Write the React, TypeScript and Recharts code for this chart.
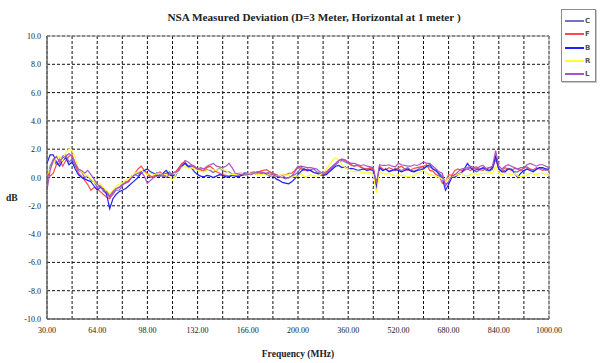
import React from 'react';
import { LineChart, Line, XAxis, YAxis, CartesianGrid, ReferenceArea, Legend } from 'recharts';

// Frequencies (MHz) of the sampled points
const FREQS = [
  30, 32.125, 34.25, 36.375, 38.5, 40.625, 42.75, 44.875, 47, 49.125,
  51.25, 53.375, 55.5, 57.625, 59.75, 61.875, 64, 66.125, 68.25, 70.375,
  72.5, 74.625, 76.75, 78.875, 81, 83.125, 85.25, 87.375, 89.5, 91.625,
  93.75, 95.875, 98, 100.125, 102.25, 104.375, 106.5, 108.625, 110.75, 112.875,
  115, 117.125, 119.25, 121.375, 123.5, 125.625, 127.75, 129.875, 132, 134.125,
  136.25, 138.375, 140.5, 142.625, 144.75, 146.875, 149, 151.125, 153.25, 155.375,
  157.5, 159.625, 161.75, 163.875, 166, 168.125, 170.25, 172.375, 174.5, 176.625,
  178.75, 180.875, 183, 185.125, 187.25, 189.375, 191.5, 193.625, 195.75, 197.875,
  200, 210, 220, 230, 240, 250, 260, 270, 280, 290,
  300, 310, 320, 330, 340, 350, 360, 370, 380, 390,
  400, 410, 420, 430, 440, 450, 460, 470, 480, 490,
  500, 510, 520, 530, 540, 550, 560, 570, 580, 590,
  600, 610, 620, 630, 640, 650, 660, 670, 680, 690,
  700, 710, 720, 730, 740, 750, 760, 770, 780, 790,
  800, 810, 820, 830, 840, 850, 860, 870, 880, 890,
  900, 910, 920, 930, 940, 950, 960, 970, 980, 990,
  1000,
];

const C_VALS = [
  -0.3, 0.8, 1.3, 0.9, 1.0, 1.5, 1.6, 1.1, 1.3, 0.8,
  0.5, 0.4, 0.0, 0.1, -0.2, -0.3, -0.7, -0.6, -1.0, -1.1,
  -1.4, -1.2, -0.9, -0.9, -0.6, -0.3, -0.3, 0.1, 0.2, 0.1,
  0.4, 0.5, 0.2, 0.0, 0.1, 0.35, 0.2, 0.05, 0.2, 0.4,
  0.2, 0.1, 0.6, 0.9, 1.0, 0.7, 0.8, 0.75, 0.5, 0.6,
  0.4, 0.55, 0.5, 0.35, 0.5, 0.65, 0.5, 0.4, 0.4, 0.25,
  0.2, 0.15, 0.25, 0.35, 0.3, 0.2, 0.3, 0.4, 0.35, 0.25,
  0.3, 0.4, 0.25, 0.2, 0.1, 0.15, 0.0, -0.05, 0.1, 0.2,
  0.4, 0.7, 0.6, 0.45, 0.55, 0.6, 0.4, 0.3, 0.2, 0.25,
  0.5, 0.7, 0.9, 1.1, 1.2, 1.1, 1.0, 0.85, 0.8, 0.9,
  0.7, 0.6, 0.6, 0.7, 0.55, -0.6, 0.7, 0.5, 0.6, 0.45,
  0.5, 0.65, 0.6, 0.5, 0.6, 0.7, 0.5, 0.45, 0.55, 0.7,
  0.65, 0.8, 0.75, 0.6, 0.45, 0.3, 0.1, -0.5, -0.3, 0.0,
  0.1, 0.25, 0.35, 0.5, 0.6, 0.7, 0.5, 0.4, 0.55, 0.65,
  0.5, 0.45, 0.6, 1.3, 0.6, 0.45, 0.5, 0.65, 0.55, 0.4,
  0.4, 0.55, 0.45, 0.6, 0.6, 0.5, 0.55, 0.7, 0.6, 0.5,
  0.55,
];
const F_VALS = [
  0.4, 0.1, 0.3, 0.9, 1.3, 0.8, 1.2, 1.5, 1.6, 1.0,
  0.3, 0.1, -0.2, -0.5, -0.9, -0.7, -0.8, -1.0, -1.2, -1.4,
  -1.5, -1.1, -0.8, -0.7, -0.5, -0.4, -0.2, 0.0, 0.3, 0.6,
  0.8, 0.5, 0.3, 0.1, 0.0, 0.2, 0.4, 0.2, 0.3, 0.2,
  0.3, 0.4, 0.7, 1.0, 1.1, 0.8, 0.9, 0.7, 0.6, 0.5,
  0.5, 0.7, 0.8, 0.6, 0.4, 0.3, 0.2, 0.15, 0.1, 0.15,
  0.2, 0.3, 0.3, 0.2, 0.2, 0.35, 0.4, 0.3, 0.45, 0.5,
  0.55, 0.4, 0.3, 0.2, 0.1, 0.2, 0.15, 0.3, 0.3, 0.5,
  0.8, 0.6, 0.5, 0.6, 0.5, 0.35, 0.3, 0.25, 0.2, 0.3,
  0.55, 0.8, 1.0, 1.2, 1.3, 1.2, 1.1, 0.9, 0.8, 0.85,
  0.75, 0.65, 0.6, 0.65, 0.6, -0.5, 0.8, 0.6, 0.55, 0.7,
  0.6, 0.5, 0.7, 0.8, 0.6, 0.5, 0.55, 0.65, 0.7, 0.75,
  0.8, 0.9, 0.5, 0.45, 0.2, 0.1, -0.4, -0.3, 0.2, 0.15,
  0.5, 0.6, 0.5, 0.55, 0.6, 0.5, 0.7, 0.75, 0.55, 0.5,
  0.65, 0.7, 0.7, 1.4, 0.6, 0.5, 0.7, 0.6, 0.5, 0.65,
  0.6, 0.5, 0.7, 0.75, 0.6, 0.55, 0.7, 0.6, 0.5, 0.6,
  0.5,
];
const B_VALS = [
  1.0, 1.6, 1.6, 1.1, 0.8, 1.2, 1.4, 0.9, 1.1, 0.6,
  0.2, 0.0, -0.1, -0.2, -0.3, -0.6, -0.9, -0.7, -0.8, -1.2,
  -2.2, -1.5, -1.2, -1.0, -0.9, -0.8, -0.6, -0.4, -0.2, 0.0,
  0.3, 0.5, 0.6, 0.4, 0.3, 0.15, 0.1, 0.3, 0.5, 0.2,
  0.1, 0.2, 0.5, 0.8, 1.0, 0.8, 0.7, 0.4, 0.2, 0.1,
  0.05, 0.15, 0.1, 0.0, 0.1, 0.2, 0.15, 0.05, 0.05, 0.15,
  0.1, 0.05, 0.15, 0.2, 0.2, 0.3, 0.3, 0.2, 0.25, 0.3,
  0.2, 0.1, 0.15, -0.1, -0.2, -0.35, -0.4, -0.45, -0.3, -0.1,
  0.2, 0.45, 0.6, 0.5, 0.5, 0.35, 0.3, 0.2, 0.15, 0.2,
  0.4, 0.6, 0.8, 0.85, 0.7, 0.75, 0.6, 0.65, 0.6, 0.5,
  0.55, 0.6, 0.5, 0.55, 0.5, -0.8, 0.7, 0.5, 0.6, 0.4,
  0.5, 0.55, 0.5, 0.4, 0.5, 0.6, 0.45, 0.4, 0.5, 0.55,
  0.6, 0.8, 0.9, 0.6, 0.5, 0.2, -0.05, -0.9, -0.5, 0.0,
  0.0, 0.2, 0.3, 0.6, 1.0, 0.7, 0.5, 0.55, 0.6, 0.7,
  0.6, 0.5, 0.7, 1.5, 0.6, 0.4, 0.4, 0.6, 0.6, 0.3,
  0.0, 0.3, 0.5, 0.6, 0.5, 0.4, 0.6, 0.7, 0.7, 0.6,
  0.6,
];
const R_VALS = [
  0.2, 0.6, 1.0, 1.4, 1.5, 1.2, 1.8, 2.0, 1.9, 1.4,
  0.6, 0.4, 0.2, 0.1, -0.1, -0.3, -0.5, -0.4, -0.7, -0.9,
  -1.2, -0.9, -0.6, -0.5, -0.4, -0.2, -0.1, 0.1, 0.3, 0.4,
  0.5, 0.35, 0.2, 0.3, 0.2, 0.25, 0.3, 0.2, 0.2, 0.1,
  -0.2, 0.2, 0.5, 0.7, 0.8, 0.65, 0.7, 0.6, 0.5, 0.45,
  0.4, 0.5, 0.6, 0.55, 0.5, 0.6, 0.6, 0.5, 0.3, 0.2,
  0.2, 0.25, 0.3, 0.25, 0.25, 0.3, 0.3, 0.2, 0.2, 0.25,
  0.15, 0.2, 0.15, 0.1, 0.1, 0.2, 0.15, 0.2, 0.0, 0.1,
  0.1, 0.3, 0.05, 0.1, 0.2, 0.1, 0.1, 0.2, 0.3, 0.6,
  0.9, 1.2, 1.4, 1.2, 0.9, 0.7, 0.6, 0.5, 0.4, 0.45,
  0.4, 0.3, 0.4, 0.35, 0.2, -1.1, 0.4, 0.3, 0.2, 0.3,
  0.2, 0.1, 0.2, 0.15, 0.1, 0.05, 0.05, 0.15, 0.3, 0.4,
  0.5, 0.3, 0.2, 0.15, 0.1, 0.0, -0.1, -0.3, 0.0, 0.05,
  0.15, 0.2, 0.3, 0.15, 0.1, 0.2, 0.3, 0.2, 0.25, 0.3,
  0.3, 0.4, 0.3, 0.8, 0.3, 0.2, 0.3, 0.25, 0.2, 0.3,
  0.1, 0.05, 0.1, 0.2, 0.3, 0.25, 0.2, 0.3, 0.3, 0.2,
  0.3,
];
const L_VALS = [
  -0.9, 0.5, 1.2, 1.5, 1.1, 1.4, 1.5, 1.7, 1.5, 1.0,
  0.6, 0.5, 0.3, 0.5, 0.2, -0.1, -0.5, -0.6, -0.9, -1.0,
  -1.3, -1.0, -0.8, -0.7, -0.5, -0.4, -0.3, 0.0, 0.2, 0.3,
  0.4, 0.1, -0.4, -0.2, 0.0, 0.1, 0.1, 0.2, 0.0, 0.2,
  0.3, 0.4, 0.5, 0.9, 1.2, 1.1, 0.9, 0.8, 0.6, 0.7,
  0.6, 0.8, 0.9, 1.0, 0.8, 0.75, 0.7, 0.8, 1.0, 0.7,
  0.3, 0.25, 0.2, 0.3, 0.25, 0.2, 0.3, 0.4, 0.4, 0.35,
  0.3, 0.25, 0.2, 0.1, 0.05, 0.0, -0.1, 0.0, 0.1, 0.4,
  0.75, 0.8, 0.75, 0.7, 0.7, 0.65, 0.6, 0.4, 0.3, 0.4,
  0.6, 0.8, 1.0, 1.2, 1.3, 1.25, 1.1, 1.0, 1.0, 0.9,
  0.85, 0.9, 0.8, 0.75, 0.7, -0.4, 0.9, 0.85, 0.85, 0.9,
  0.8, 0.75, 1.0, 0.9, 0.85, 0.8, 0.8, 0.9, 0.85, 0.95,
  1.1, 1.0, 1.0, 0.8, 0.6, 0.4, 0.3, -0.6, -0.3, 0.1,
  0.2, 0.4, 0.6, 0.65, 0.7, 0.8, 0.7, 0.6, 0.8, 0.85,
  0.6, 0.7, 0.8, 1.9, 0.8, 0.6, 0.8, 0.9, 0.8, 0.7,
  0.6, 0.7, 0.7, 0.9, 1.0, 0.9, 0.8, 0.9, 0.9, 0.8,
  0.7,
];

const SERIES = [
  { key: 'C', color: '#7272c6', values: C_VALS },
  { key: 'F', color: '#ff4848', values: F_VALS },
  { key: 'B', color: '#1e1eff', values: B_VALS },
  { key: 'R', color: '#ffff30', values: R_VALS },
  { key: 'L', color: '#a855c0', values: L_VALS },
];

const X_LABEL_FREQS = [30, 64, 98, 132, 166, 200, 360, 520, 680, 840, 1000];
const X_GRID_FREQS = [30, 47, 64, 81, 98, 115, 132, 149, 166, 183, 200, 280, 360, 440, 520, 600, 680, 760, 840, 920, 1000];
const Y_TICKS = [-10, -8, -6, -4, -2, 0, 2, 4, 6, 8, 10];

const TITLE = 'NSA Measured Deviation (D=3 Meter, Horizontal at 1 meter )';
const X_TITLE = 'Frequency (MHz)';
const Y_TITLE = 'dB';

// Piecewise-linear frequency axis: 30-200 MHz on the left half, 200-1000 MHz on the right half
const freqToPos = (f: number) => (f <= 200 ? (f - 30) / 17 : 10 + (f - 200) / 80);

const data = FREQS.map((f, i) => {
  const row: Record<string, number> = { pos: freqToPos(f) };
  SERIES.forEach((s) => {
    row[s.key] = s.values[i];
  });
  return row;
});

const gridTicks = X_GRID_FREQS.map(freqToPos);
const labelByPos = new Map<number, string>(X_LABEL_FREQS.map((f) => [freqToPos(f), f.toFixed(2)]));

const serif = '"Liberation Serif", "Times New Roman", serif';

const XTick = (props: any) => {
  const { x, y, payload } = props;
  const label = labelByPos.get(payload.value);
  if (!label) return null;
  return (
    <text x={x} y={y + 14} textAnchor="middle" fontSize={8} fontFamily={serif} fill="#222" stroke="none">
      {label}
    </text>
  );
};

const YTick = (props: any) => {
  const { x, y, payload } = props;
  return (
    <text x={x} y={y + 3} textAnchor="end" fontSize={8} fontFamily={serif} fill="#222" stroke="none">
      {Number(payload.value).toFixed(1)}
    </text>
  );
};

const renderLegend = () => (
  <div
    style={{
      width: 35,
      height: 73,
      border: '1px solid #8a8a8a',
      boxShadow: '1px 1px 0 #c8c8c8',
      background: '#fff',
      boxSizing: 'border-box',
      position: 'relative',
    }}
  >
    {SERIES.map((s, i) => (
      <div
        key={s.key}
        style={{
          position: 'absolute',
          left: 3,
          top: 7 + i * 13.3,
          height: 8,
          display: 'flex',
          alignItems: 'center',
        }}
      >
        <div style={{ width: 19, height: 2, background: s.color }} />
        <span
          style={{
            fontSize: 7,
            fontFamily: '"DejaVu Sans", Arial, sans-serif',
            fontWeight: 'bold',
            color: '#555',
            marginLeft: 1,
            lineHeight: '8px',
          }}
        >
          {s.key}
        </span>
      </div>
    ))}
  </div>
);

export default function App() {
  return (
    <div style={{ position: 'absolute', left: 0, top: 0, width: 600, height: 363, background: '#fff' }}>
      <div
        style={{
          position: 'absolute',
          left: 14,
          top: 11,
          width: 600,
          textAlign: 'center',
          fontFamily: serif,
          fontWeight: 'bold',
          fontSize: 11.2,
          lineHeight: '12px',
          color: '#222',
        }}
      >
        {TITLE}
      </div>
      <LineChart width={600} height={363} data={data} margin={{ top: 36, right: 51, bottom: 0, left: 0 }}>
        <CartesianGrid stroke="#111" strokeDasharray="3 2" strokeWidth={1} />
        <XAxis
          dataKey="pos"
          type="number"
          domain={[0, 20]}
          ticks={gridTicks}
          interval={0}
          height={44}
          tickLine={false}
          tickSize={0}
          tickMargin={0}
          axisLine={{ stroke: '#555' }}
          tick={<XTick />}
          label={{
            value: X_TITLE,
            position: 'insideBottom',
            offset: 6,
            style: { fontSize: 9.5, fontFamily: serif, fontWeight: 'bold', fill: '#222' },
          }}
        />
        <YAxis
          type="number"
          domain={[-10, 10]}
          ticks={Y_TICKS}
          interval={0}
          width={47}
          tickLine={false}
          tickSize={0}
          tickMargin={6}
          axisLine={{ stroke: '#555' }}
          tick={<YTick />}
          label={{
            value: Y_TITLE,
            position: 'insideLeft',
            offset: 6,
            dy: 20,
            style: { fontSize: 9.5, fontFamily: serif, fontWeight: 'bold', fill: '#222', textAnchor: 'start' },
          }}
        />
        <ReferenceArea x1={0} x2={20} y1={-10} y2={10} fill="none" stroke="#9a9a9a" strokeWidth={1} ifOverflow="visible" />
        {SERIES.map((s) => (
          <Line
            key={s.key}
            type="linear"
            dataKey={s.key}
            stroke={s.color}
            strokeWidth={1.2}
            dot={false}
            activeDot={false}
            isAnimationActive={false}
          />
        ))}
        <Legend
          layout="horizontal"
          verticalAlign="middle"
          align="center"
          content={renderLegend}
          wrapperStyle={{ position: 'absolute', left: 561, top: 9, width: 36, height: 74 }}
        />
      </LineChart>
    </div>
  );
}
